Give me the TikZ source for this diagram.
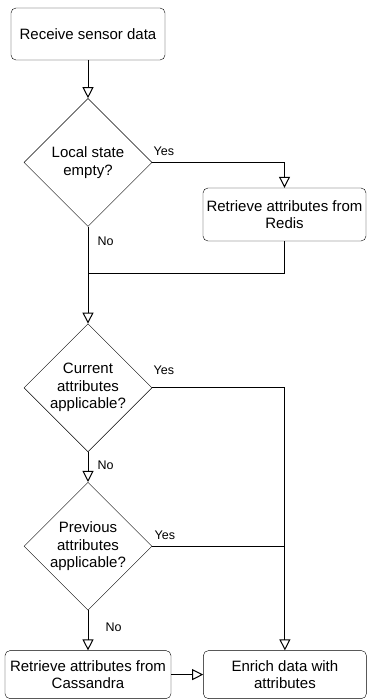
\documentclass[tikz,border=0pt]{standalone}
\usepackage{fontspec}
\setmainfont{Liberation Sans}
\usepackage{tikz}
\usetikzlibrary{shapes,arrows.meta}
\usetikzlibrary{positioning}
\tikzstyle{block} = [draw, rounded corners=5pt, align=center, inner sep=2pt,
minimum height=52pt, font=\fontsize{15}{17.5}\selectfont]
\tikzstyle{decision} = [draw, diamond, aspect=1, inner sep=0pt, align=center,
minimum width=128pt, minimum height=128pt, font=\fontsize{15}{17.5}\selectfont]
\tikzstyle{line} = [draw, -{Triangle[open, length=11pt, width=11pt]}, line width=1pt]
\tikzstyle{wire} = [draw, line width=1pt]
\tikzstyle{answer} = [font=\fontsize{12.5}{14}\selectfont, inner sep=0pt]

\begin{document}
\begin{tikzpicture}[x=1pt, y=-1pt]
	\useasboundingbox (0,0) rectangle (367,700);
	\node [block, minimum width=154pt] (recv) at (88,34) {Receive sensor data};
	\node [decision, below=38pt of recv] (empty) {Local state\\empty?};
	\node [block, minimum width=163pt, minimum height=53pt] (redis) at (284.5,214.5) {Retrieve attributes from\\Redis};
	\node [decision, below=97pt of empty] (current) {Current\\attributes\\applicable?};
	\node [decision, below=30pt of current] (previous) {Previous\\attributes\\applicable?};
	\node [block, minimum width=166pt, minimum height=48pt, below=40pt of previous] (cass) {Retrieve attributes from\\Cassandra};
	\node [block, minimum width=163pt, minimum height=48pt, right=32pt of cass] (enrich) {Enrich data with\\attributes};
	\coordinate (j1) at (88,273);
	\coordinate (j2) at (previous.east -| enrich.north);
	%% Flows
	\path [line] (recv) -- (empty);
	\path [line] (empty.east) -| node [answer, pos=0, anchor=south west, xshift=1pt, yshift=6pt] {Yes} (redis.north);
	\path [line] (empty) -- node [answer, pos=0, anchor=north west, xshift=9pt, yshift=-9.5pt] {No} (current);
	\path [wire] (redis.south) |- (j1);
	\path [line] (current.east) -| node [answer, pos=0, anchor=south west, xshift=1pt, yshift=13pt] {Yes} (enrich.north);
	\path [line] (current) -- node [answer, pos=0, anchor=north west, xshift=9pt, yshift=-8.5pt] {No} (previous);
	\path [wire] (previous.east) -- node [answer, pos=0, anchor=south west, xshift=2pt, yshift=6.5pt] {Yes} (j2);
	\path [line] (previous) -- node [answer, pos=0, anchor=north west, xshift=17pt, yshift=-11.5pt] {No} (cass);
	\path [line] (cass) -- (enrich);
\end{tikzpicture}
\end{document}
